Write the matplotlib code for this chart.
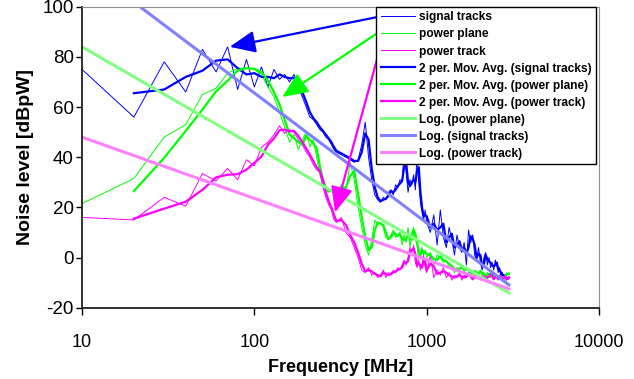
"""
Noise level vs frequency for signal tracks, power plane and power track
"""

import matplotlib.pyplot as plt
import numpy as np

plt.rcParams['font.family'] = ['Liberation Sans', 'DejaVu Sans']
plt.rcParams['axes.unicode_minus'] = False

# Frequency grid [MHz]
freq = [10, 20, 30, 40, 50, 60, 70, 80, 90, 100,
        110, 120, 130, 140, 150, 160, 170, 180, 190, 200,
        210, 220, 230, 240, 250, 260, 270, 280, 290, 300,
        320, 340, 360, 380, 400, 420, 440, 460, 480, 500,
        520, 540, 560, 580, 600, 620, 640, 660, 680, 700,
        720, 740, 760, 780, 800, 820, 840, 860, 880, 900,
        920, 940, 960, 980, 1000,
        1050, 1100, 1150, 1200, 1250, 1300, 1350, 1400, 1450, 1500,
        1550, 1600, 1650, 1700, 1750, 1800, 1850, 1900, 1950, 2000,
        2050, 2100, 2150, 2200, 2250, 2300, 2350, 2400, 2450, 2500,
        2550, 2600, 2650, 2700, 2750, 2800, 2850, 2900, 2950, 3000]

# Noise level [dBpW]
signal_tracks = [75, 56, 78, 66, 83, 74, 84, 67, 79, 68,
                 76, 68, 75, 71, 73, 70, 73, 68, 64, 60,
                 56, 55, 53, 51, 50, 48, 47, 45, 43, 42,
                 41, 40, 39, 38, 39, 45, 54, 40, 31, 25,
                 23, 22, 24, 23, 26, 27, 25, 29, 28, 31,
                 30, 42, 34, 26, 31, 29, 33, 27, 42, 30,
                 22, 18, 15, 19, 14,
                 10, 17, 5, 19, 8, 4, 12, 7, 1, 9,
                 4, 2, 6, -3, 11, 6, 9, 1, -1, 4,
                 -2, -5, 0, 2, -3, 0, -4, -2, -5, -1,
                 -3, -6, -4, -8, -6, -8, -7, -9, -8, -8]

power_plane = [21.5, 31.5, 48, 53, 65, 67.5, 73.5, 75.5, 75.5, 75,
               73, 68, 64, 58, 52, 46, 49, 43, 47, 50,
               44, 47, 40, 33, 29, 27, 26, 27, 26, 26,
               29, 27, 38, 31, 20, 12, 5, 1, 7, 15,
               13, 14, 12, 8, 7, 9, 11, 8, 9, 10,
               5, 9, 6, 12, 4, 10, 12, 7, 5, -1,
               2, 4, 1, 3, 0,
               2, -3, 1, 0, -2, -1, -4, -3, -6, -4,
               -5, -3, -6, -4, -5, -7, -6, -5, -7, -6,
               -5, -7, -6, -8, -6, -7, -8, -6, -7, -8,
               -7, -9, -7, -8, -9, -7, -8, -6, -7, -6]

power_track = [16, 15, 24, 20.5, 33.5, 30.5, 35.5, 31, 39, 36.5,
               44, 46, 49, 52.5, 49.5, 51, 50, 47, 45, 42,
               40, 37, 35, 34, 28, 24, 21, 19, 15, 14,
               16, 10, 8, 4, 0, -5, -6, -4, -7, -6,
               -8, -7, -5, -8, -6, -7, -5, -6, -4, -5,
               -3, -1, -3, 0, 4, 2, 5, -2, -4, -1,
               -5, -3, 1, -4, -6,
               1, -8, -5, -7, -4, -8, -6, -9, -7, -8,
               -6, -9, -7, -8, -6, -8, -9, -7, -8, -6,
               -9, -7, -8, -9, -7, -8, -6, -8, -9, -7,
               -8, -9, -7, -8, -9, -8, -7, -9, -8, -8]

# Log trendlines, value at the first and last frequency
trend_freq = [10, 3000]
log_power_plane = [84.0, -14.1]
log_signal_tracks = [117.4, -10.9]
log_power_track = [48.0, -12.5]

# Arrows from legend to the curves: (freq, level)
arrow_targets = [(72, 84), (145, 64), (294, 18)]


def moving_avg(values):
    # 2 period moving average, as in the spreadsheet trendline
    v = np.array(values, dtype=float)
    return (v[1:] + v[:-1]) / 2


blue, green, pink = '#0000ff', '#00ff00', '#ff00ff'

fig = plt.figure(figsize=(6.34, 3.79), dpi=100)
ax = fig.add_axes([82 / 634, 1 - 307.7 / 379, (599 - 82) / 634, (307.7 - 6.7) / 379])

f = np.array(freq)
ax.plot(f, signal_tracks, color=blue, lw=0.7, label='signal tracks')
ax.plot(f, power_plane, color=green, lw=0.7, label='power plane')
ax.plot(f, power_track, color=pink, lw=0.7, label='power track')
ax.plot(f[1:], moving_avg(signal_tracks), color=blue, lw=1.6, label='2 per. Mov. Avg. (signal tracks)')
ax.plot(f[1:], moving_avg(power_plane), color=green, lw=1.6, label='2 per. Mov. Avg. (power plane)')
ax.plot(f[1:], moving_avg(power_track), color=pink, lw=1.6, label='2 per. Mov. Avg. (power track)')
ax.plot(trend_freq, log_power_plane, color='#80ff80', lw=2.2, label='Log. (power plane)')
ax.plot(trend_freq, log_signal_tracks, color='#8080ff', lw=2.2, label='Log. (signal tracks)')
ax.plot(trend_freq, log_power_track, color='#ff80ff', lw=2.2, label='Log. (power track)')

ax.set_xscale('log')
ax.set_xlim(10, 10000)
ax.set_ylim(-20, 100)
ax.set_xticks([10, 100, 1000, 10000])
ax.set_xticklabels(['10', '100', '1000', '10000'])
ax.set_yticks(range(-20, 101, 20))
ax.minorticks_off()
ax.tick_params(axis='x', direction='out', length=5, width=1, pad=14, labelsize=13)
ax.tick_params(axis='y', direction='out', length=4.5, width=1, pad=1.5, labelsize=13.5)

for side in ['left', 'bottom']:
    ax.spines[side].set_linewidth(1.3)
    ax.spines[side].set_color('#202020')
for side in ['top', 'right']:
    ax.spines[side].set_linewidth(0.8)
    ax.spines[side].set_color('#909090')

ax.set_xlabel('Frequency [MHz]', fontsize=13, fontweight='bold', labelpad=6)
ax.set_ylabel('Noise level [dBpW]', fontsize=14, fontweight='bold', labelpad=6)

leg = fig.legend(loc='upper left', bbox_to_anchor=(376 / 634, 1 - 6.7 / 379),
                 borderaxespad=0, prop={'weight': 'bold', 'size': 8.6},
                 frameon=True, fancybox=False, framealpha=1, edgecolor='black',
                 handlelength=2.86, handletextpad=0.34, labelspacing=0.42,
                 borderpad=0.4)
leg.get_frame().set_linewidth(1)

# arrows pointing from the legend to the curves
starts = [(376, 17.3), (376, 34), (379, 52)]
colors = [blue, green, pink]
for (sx, sy), target, c in zip(starts, arrow_targets, colors):
    ax.annotate('', xy=target, xycoords='data',
                xytext=(sx / 634, 1 - sy / 379), textcoords='figure fraction',
                arrowprops=dict(arrowstyle='-|>,head_length=0.65,head_width=0.28',
                                mutation_scale=24, color=c, lw=1.6,
                                shrinkA=0, shrinkB=0),
                annotation_clip=False)

fig.savefig('out.png', dpi=100)
